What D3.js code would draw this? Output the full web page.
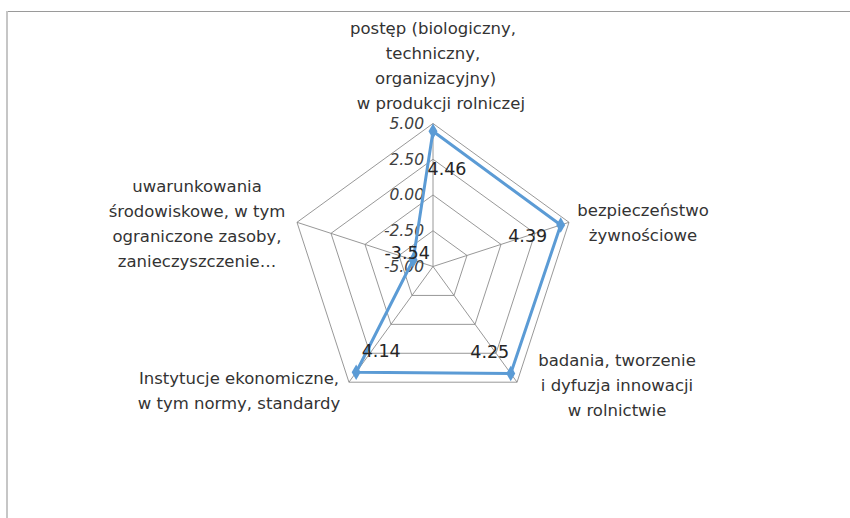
<!DOCTYPE html>
<html><head><meta charset="utf-8">
<script src="https://cdn.jsdelivr.net/npm/d3@7"></script>
<style>
body{margin:0;background:#fff;}
svg{display:block;}
</style></head>
<body>
<svg id="chart" width="850" height="518"></svg>
<script>
const categories = [
  ["postęp (biologiczny,", "techniczny,", " organizacyjny)", "   w produkcji rolniczej"],
  ["bezpieczeństwo", "żywnościowe"],
  ["badania, tworzenie", "i dyfuzja innowacji", "w rolnictwie"],
  ["Instytucje ekonomiczne,", "w tym normy, standardy"],
  ["uwarunkowania", "środowiskowe, w tym", "ograniczone zasoby,", "zanieczyszczenie…"]
];
const values = [4.46, 4.39, 4.25, 4.14, -3.54];
const tickValues = [-5, -2.5, 0, 2.5, 5];
const tickLabels = ["-5.00", "-2.50", "0.00", "2.50", "5.00"];

// layout
const cx = 433, cy = 266.5, R = 143;
const labelOffsets = [[14, 38], [-33, 11], [-21, -22], [25, -21.5], [-6, -7]];
const catAnchors = [
  {x: 433, y: 28},
  {x: 643, y: 210},
  {x: 617, y: 360},
  {x: 239, y: 378},
  {x: 197, y: 186}
];
const font = "'DejaVu Sans', sans-serif";

const svg = d3.select("#chart");
// frame
svg.append("line").attr("x1", 7).attr("x2", 850).attr("y1", 11.5).attr("y2", 11.5)
  .attr("stroke", "#9a9a9a").attr("stroke-width", 1);
svg.append("line").attr("x1", 7).attr("x2", 7).attr("y1", 11).attr("y2", 518)
  .attr("stroke", "#c6c6c6").attr("stroke-width", 2);

const r = d3.scaleLinear().domain([-5, 5]).range([0, R]);
const n = categories.length;
const angle = i => -Math.PI / 2 + i * 2 * Math.PI / n;
const pt = (i, v) => [cx + r(v) * Math.cos(angle(i)), cy + r(v) * Math.sin(angle(i))];

const g = svg.append("g");
// grid rings
tickValues.forEach(t => {
  const pts = d3.range(n).map(i => pt(i, t));
  g.append("path").attr("d", d3.line()(pts) + "Z")
    .attr("fill", "none").attr("stroke", "#8c8c8c").attr("stroke-width", 0.9);
});
// spokes
d3.range(n).forEach(i => {
  const [x, y] = pt(i, 5);
  g.append("line").attr("x1", cx).attr("y1", cy).attr("x2", x).attr("y2", y)
    .attr("stroke", "#8c8c8c").attr("stroke-width", 0.9);
});
// tick labels
tickValues.forEach((t, k) => {
  g.append("text").attr("x", cx - 9).attr("y", cy - r(t)).attr("dy", "0.35em")
    .attr("text-anchor", "end").attr("font-family", font).attr("font-style", "italic")
    .attr("font-size", 15.5).attr("fill", "#404040").text(tickLabels[k]);
});
// series
const pts = values.map((v, i) => pt(i, v));
g.append("path").attr("d", d3.line()(pts) + "Z")
  .attr("fill", "none").attr("stroke", "#5b9bd5").attr("stroke-width", 3)
  .attr("stroke-linejoin", "round");
g.selectAll(".m").data(pts).enter().append("path")
  .attr("transform", d => `translate(${d[0]},${d[1]})`)
  .attr("d", d3.symbol().type(d3.symbolDiamond).size(70))
  .attr("fill", "#5b9bd5");
// data labels
values.forEach((v, i) => {
  const [x, y] = pt(i, v);
  g.append("text").attr("x", x + labelOffsets[i][0]).attr("y", y + labelOffsets[i][1])
    .attr("dy", "0.35em").attr("text-anchor", "middle")
    .attr("font-family", font).attr("font-size", 17.5).attr("fill", "#262626")
    .text(v.toFixed(2));
});
// category labels
categories.forEach((lines, i) => {
  const a = catAnchors[i];
  const t = g.append("text").attr("font-family", font).attr("font-size", 16.5)
    .attr("fill", "#333333").attr("text-anchor", "middle")
    .attr("xml:space", "preserve").style("white-space", "pre");
  lines.forEach((l, j) => {
    t.append("tspan").attr("x", a.x).attr("y", a.y + j * 25).attr("dy", "0.35em").text(l);
  });
});
</script>
</body></html>
